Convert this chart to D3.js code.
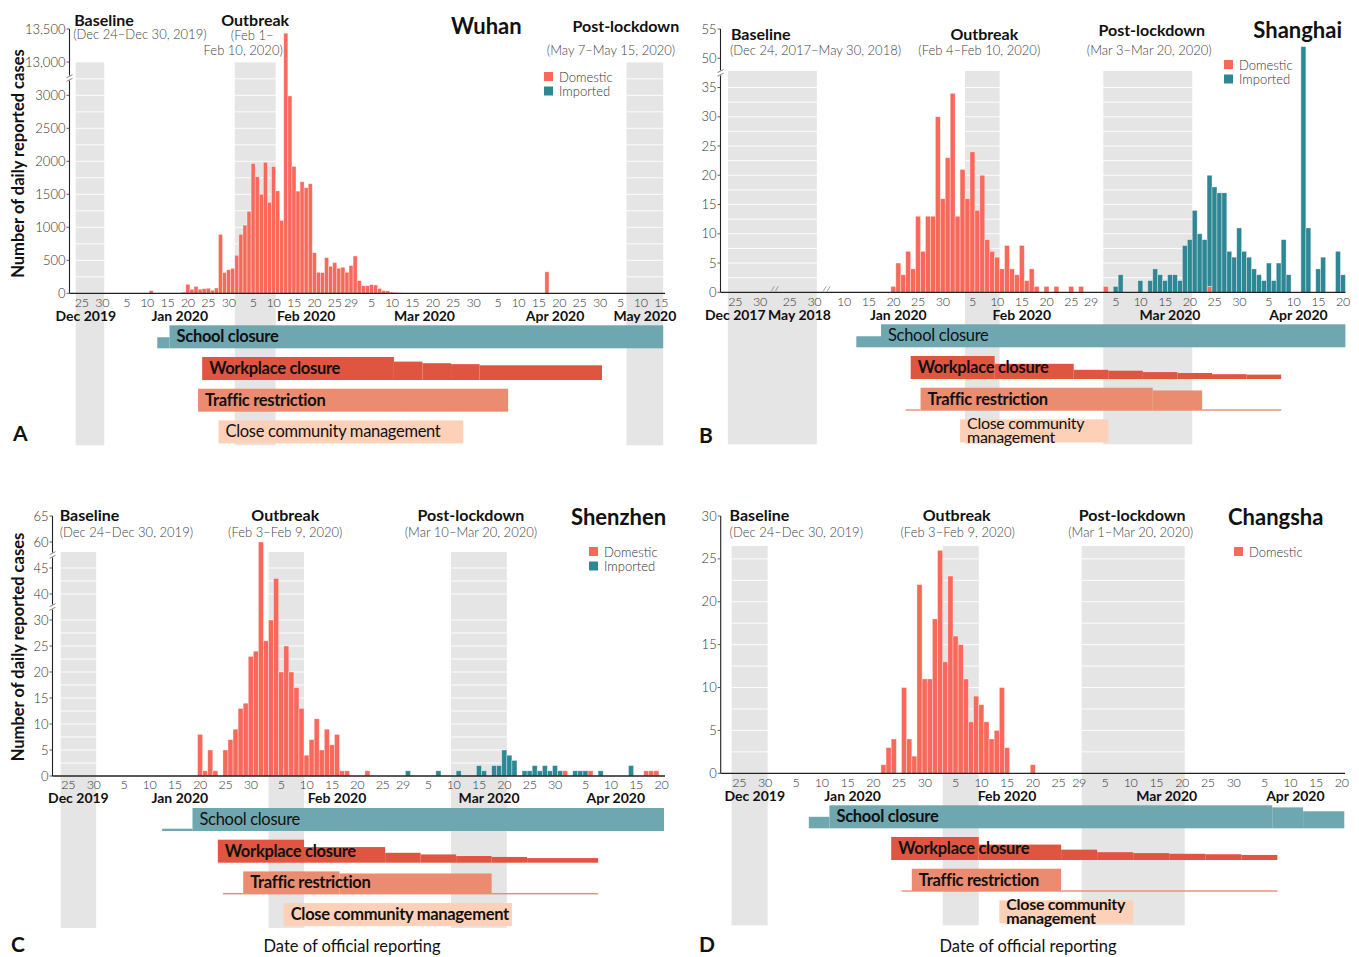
<!DOCTYPE html>
<html>
<head>
<meta charset="utf-8">
<script src="https://cdn.jsdelivr.net/npm/d3@7"></script>
<style>
body { margin: 0; background: #fff; }
svg { font-family: Lato, 'Noto Sans', sans-serif; }
</style>
</head>
<body>
<svg id="chart" width="1359" height="957"></svg>
<script>
// ---- data ----
var seriesNames = ['Domestic', 'Imported'];
var seriesColors = ['#f8695b', '#2e8794'];
var interventionNames = ['School closure', 'Workplace closure', 'Traffic restriction', 'Close community management'];
var interventionColors = ['#6fa7b1', '#e0553f', '#eb8b6f', '#fdd0b8'];
var tickDays = [5, 10, 15, 20, 25, 30];

// daily reported cases [reporting date, cases]
var wuhanDomestic = [
	['2020-01-11', 41], ['2020-01-18', 4], ['2020-01-19', 17], ['2020-01-20', 136], ['2020-01-21', 60],
	['2020-01-22', 105], ['2020-01-23', 62], ['2020-01-24', 70], ['2020-01-25', 77], ['2020-01-26', 46],
	['2020-01-27', 80], ['2020-01-28', 892], ['2020-01-29', 315], ['2020-01-30', 356], ['2020-01-31', 378],
	['2020-02-01', 576], ['2020-02-02', 894], ['2020-02-03', 1033], ['2020-02-04', 1242], ['2020-02-05', 1967],
	['2020-02-06', 1766], ['2020-02-07', 1501], ['2020-02-08', 1985], ['2020-02-09', 1379], ['2020-02-10', 1921],
	['2020-02-11', 1552], ['2020-02-12', 1104], ['2020-02-13', 13436], ['2020-02-14', 2990], ['2020-02-15', 1923],
	['2020-02-16', 1548], ['2020-02-17', 1690], ['2020-02-18', 1600], ['2020-02-19', 1660], ['2020-02-20', 615],
	['2020-02-21', 319], ['2020-02-22', 314], ['2020-02-23', 541], ['2020-02-24', 410], ['2020-02-25', 465],
	['2020-02-26', 380], ['2020-02-27', 395], ['2020-02-28', 318], ['2020-02-29', 420], ['2020-03-01', 565],
	['2020-03-02', 193], ['2020-03-03', 114], ['2020-03-04', 115], ['2020-03-05', 131], ['2020-03-06', 126],
	['2020-03-07', 74], ['2020-03-08', 41], ['2020-03-09', 36], ['2020-03-10', 17], ['2020-03-11', 13],
	['2020-03-12', 8], ['2020-03-13', 5], ['2020-03-14', 4], ['2020-03-15', 4], ['2020-03-16', 4],
	['2020-03-17', 1], ['2020-03-18', 1], ['2020-03-24', 1], ['2020-04-17', 325], ['2020-05-10', 1], ['2020-05-11', 5]
];
var wuhanImported = [];

var shanghaiDomestic = [
	['2020-01-20', 1], ['2020-01-21', 5], ['2020-01-22', 3], ['2020-01-23', 7], ['2020-01-24', 4],
	['2020-01-25', 13], ['2020-01-26', 7], ['2020-01-27', 13], ['2020-01-28', 13], ['2020-01-29', 30],
	['2020-01-30', 16], ['2020-01-31', 23], ['2020-02-01', 34], ['2020-02-02', 13], ['2020-02-03', 21],
	['2020-02-04', 16], ['2020-02-05', 24], ['2020-02-06', 14], ['2020-02-07', 20], ['2020-02-08', 9],
	['2020-02-09', 7], ['2020-02-10', 6], ['2020-02-11', 4], ['2020-02-12', 8], ['2020-02-13', 4],
	['2020-02-14', 3], ['2020-02-15', 8], ['2020-02-16', 2], ['2020-02-17', 4], ['2020-02-18', 1],
	['2020-02-20', 1], ['2020-02-22', 1], ['2020-02-25', 1], ['2020-02-27', 1], ['2020-03-03', 1], ['2020-03-24', 1]
];
var shanghaiImported = [
	['2020-03-05', 1], ['2020-03-06', 3], ['2020-03-10', 2], ['2020-03-12', 2], ['2020-03-13', 4],
	['2020-03-14', 3], ['2020-03-15', 2], ['2020-03-16', 3], ['2020-03-17', 3], ['2020-03-18', 2],
	['2020-03-19', 8], ['2020-03-20', 9], ['2020-03-21', 14], ['2020-03-22', 10], ['2020-03-23', 9],
	['2020-03-24', 19], ['2020-03-25', 18], ['2020-03-26', 17], ['2020-03-27', 17], ['2020-03-28', 7],
	['2020-03-29', 6], ['2020-03-30', 11], ['2020-03-31', 7], ['2020-04-01', 6], ['2020-04-02', 4],
	['2020-04-03', 3], ['2020-04-04', 2], ['2020-04-05', 5], ['2020-04-06', 2], ['2020-04-07', 5],
	['2020-04-08', 9], ['2020-04-09', 3], ['2020-04-12', 52], ['2020-04-13', 11], ['2020-04-15', 4],
	['2020-04-16', 6], ['2020-04-19', 7], ['2020-04-20', 3]
];

var shenzhenDomestic = [
	['2020-01-20', 8], ['2020-01-21', 1], ['2020-01-22', 5], ['2020-01-23', 1], ['2020-01-25', 5],
	['2020-01-26', 7], ['2020-01-27', 9], ['2020-01-28', 13], ['2020-01-29', 14], ['2020-01-30', 23],
	['2020-01-31', 24], ['2020-02-01', 60], ['2020-02-02', 26], ['2020-02-03', 30], ['2020-02-04', 43],
	['2020-02-05', 20], ['2020-02-06', 25], ['2020-02-07', 20], ['2020-02-08', 17], ['2020-02-09', 13],
	['2020-02-10', 4], ['2020-02-11', 7], ['2020-02-12', 11], ['2020-02-13', 5], ['2020-02-14', 9],
	['2020-02-15', 6], ['2020-02-16', 8], ['2020-02-17', 1], ['2020-02-18', 1], ['2020-02-22', 1],
	['2020-04-01', 1], ['2020-04-06', 1], ['2020-04-17', 1], ['2020-04-18', 1], ['2020-04-19', 1]
];
var shenzhenImported = [
	['2020-03-01', 1], ['2020-03-07', 1], ['2020-03-11', 1], ['2020-03-15', 2], ['2020-03-16', 1],
	['2020-03-18', 2], ['2020-03-19', 2], ['2020-03-20', 5], ['2020-03-21', 4], ['2020-03-22', 3],
	['2020-03-24', 1], ['2020-03-25', 1], ['2020-03-26', 2], ['2020-03-27', 1], ['2020-03-28', 2],
	['2020-03-29', 1], ['2020-03-30', 2], ['2020-03-31', 1], ['2020-04-03', 1], ['2020-04-04', 1],
	['2020-04-05', 1], ['2020-04-08', 1], ['2020-04-14', 2]
];

var changshaDomestic = [
	['2020-01-22', 1], ['2020-01-23', 3], ['2020-01-24', 4], ['2020-01-26', 10], ['2020-01-27', 4],
	['2020-01-28', 2], ['2020-01-29', 22], ['2020-01-30', 11], ['2020-01-31', 11], ['2020-02-01', 18],
	['2020-02-02', 26], ['2020-02-03', 13], ['2020-02-04', 23], ['2020-02-05', 16], ['2020-02-06', 15],
	['2020-02-07', 11], ['2020-02-08', 6], ['2020-02-09', 9], ['2020-02-10', 8], ['2020-02-11', 6],
	['2020-02-12', 4], ['2020-02-13', 5], ['2020-02-14', 10], ['2020-02-15', 3], ['2020-02-20', 1]
];
var changshaImported = [];

// y ticks
var wuhanYTicks = [0, 500, 1000, 1500, 2000, 2500, 3000, 13000, 13500];
var shanghaiYTicks = [0, 5, 10, 15, 20, 25, 30, 35, 50, 55];
var shenzhenYTicks = [0, 5, 10, 15, 20, 25, 30, 40, 45, 60, 65];
var changshaYTicks = [0, 5, 10, 15, 20, 25, 30];

// study periods [name, first day, last day, sub lines]
var wuhanPeriods = [
	['Baseline', '2019-12-24', '2019-12-30', ['(Dec 24–Dec 30, 2019)']],
	['Outbreak', '2020-02-01', '2020-02-10', ['(Feb 1–', 'Feb 10, 2020)']],
	['Post-lockdown', '2020-05-07', '2020-05-15', ['(May 7–May 15, 2020)']]
];
var shanghaiPeriods = [
	['Baseline', '2017-12-24', '2018-05-30', ['(Dec 24, 2017–May 30, 2018)']],
	['Outbreak', '2020-02-04', '2020-02-10', ['(Feb 4–Feb 10, 2020)']],
	['Post-lockdown', '2020-03-03', '2020-03-20', ['(Mar 3–Mar 20, 2020)']]
];
var shenzhenPeriods = [
	['Baseline', '2019-12-24', '2019-12-30', ['(Dec 24–Dec 30, 2019)']],
	['Outbreak', '2020-02-03', '2020-02-09', ['(Feb 3–Feb 9, 2020)']],
	['Post-lockdown', '2020-03-10', '2020-03-20', ['(Mar 10–Mar 20, 2020)']]
];
var changshaPeriods = [
	['Baseline', '2019-12-24', '2019-12-30', ['(Dec 24–Dec 30, 2019)']],
	['Outbreak', '2020-02-03', '2020-02-09', ['(Feb 3–Feb 9, 2020)']],
	['Post-lockdown', '2020-03-01', '2020-03-20', ['(Mar 1–Mar 20, 2020)']]
];

// month labels [text, day it centres on]
var wuhanMonths = [['Dec 2019', '2019-12-26'], ['Jan 2020', '2020-01-18'], ['Feb 2020', '2020-02-18'],
	['Mar 2020', '2020-03-18'], ['Apr 2020', '2020-04-19'], ['May 2020', '2020-05-11']];
var shanghaiMonths = [['Dec 2017', '2017-12-25'], ['May 2018', '2018-05-27'], ['Jan 2020', '2020-01-21'],
	['Feb 2020', '2020-02-15'], ['Mar 2020', '2020-03-16'], ['Apr 2020', '2020-04-11']];
var shenzhenMonths = [['Dec 2019', '2019-12-27'], ['Jan 2020', '2020-01-16'], ['Feb 2020', '2020-02-16'],
	['Mar 2020', '2020-03-17'], ['Apr 2020', '2020-04-11']];
var changshaMonths = [['Dec 2019', '2019-12-28'], ['Jan 2020', '2020-01-16'], ['Feb 2020', '2020-02-15'],
	['Mar 2020', '2020-03-17'], ['Apr 2020', '2020-04-11']];

// interventions: per measure, [first day, last day, intensity]
var wuhanInterventions = [
	[['2020-01-13', '2020-01-15', 0.48], ['2020-01-16', '2020-05-15', 1]],
	[['2020-01-24', '2020-03-10', 1], ['2020-03-11', '2020-03-17', 0.8], ['2020-03-18', '2020-03-24', 0.73],
		['2020-03-25', '2020-03-31', 0.69], ['2020-04-01', '2020-04-30', 0.64]],
	[['2020-01-23', '2020-04-07', 1]],
	[['2020-01-28', '2020-03-27', 1]]
];
var shanghaiInterventions = [
	[['2020-01-13', '2020-01-17', 0.48], ['2020-01-18', '2020-04-20', 1]],
	[['2020-01-24', '2020-02-09', 1], ['2020-02-10', '2020-02-25', 0.66], ['2020-02-26', '2020-03-03', 0.4],
		['2020-03-04', '2020-03-10', 0.36], ['2020-03-11', '2020-03-17', 0.3], ['2020-03-18', '2020-03-24', 0.26],
		['2020-03-25', '2020-03-31', 0.21], ['2020-04-01', '2020-04-07', 0.19]],
	[['2020-01-23', '2020-01-25', 0.06], ['2020-01-26', '2020-03-12', 1], ['2020-03-13', '2020-03-22', 0.88],
		['2020-03-23', '2020-04-07', 0.06]],
	[['2020-02-03', '2020-03-03', 1]]
];
var shenzhenInterventions = [
	[['2020-01-13', '2020-01-18', 0.1], ['2020-01-19', '2020-04-20', 1]],
	[['2020-01-24', '2020-02-09', 1], ['2020-02-10', '2020-02-25', 0.68], ['2020-02-26', '2020-03-03', 0.43],
		['2020-03-04', '2020-03-10', 0.36], ['2020-03-11', '2020-03-17', 0.29], ['2020-03-18', '2020-03-24', 0.25],
		['2020-03-25', '2020-04-07', 0.2]],
	[['2020-01-25', '2020-01-28', 0.06], ['2020-01-29', '2020-02-16', 1], ['2020-02-17', '2020-03-17', 0.91],
		['2020-03-18', '2020-04-07', 0.06]],
	[['2020-02-06', '2020-03-21', 1]]
];
var changshaInterventions = [
	[['2020-01-08', '2020-01-11', 0.5], ['2020-01-12', '2020-04-06', 1], ['2020-04-07', '2020-04-12', 0.91],
		['2020-04-13', '2020-04-20', 0.74]],
	[['2020-01-24', '2020-02-09', 1], ['2020-02-10', '2020-02-25', 0.67], ['2020-02-26', '2020-03-03', 0.45],
		['2020-03-04', '2020-03-10', 0.34], ['2020-03-11', '2020-03-17', 0.3], ['2020-03-18', '2020-03-24', 0.27],
		['2020-03-25', '2020-03-31', 0.25], ['2020-04-01', '2020-04-07', 0.22]],
	[['2020-01-26', '2020-01-27', 0.06], ['2020-01-28', '2020-02-25', 1], ['2020-02-26', '2020-04-07', 0.06]],
	[['2020-02-14', '2020-03-10', 1]]
];

// ---- helpers ----
var parseDay = d3.utcParse('%Y-%m-%d');
var fmtDay = d3.utcFormat('%Y-%m-%d');
function dayRange(a, b) {
	return d3.utcDay.range(parseDay(a), d3.utcDay.offset(parseDay(b), 1)).map(fmtDay);
}

var panels = [{
	letter: 'A', city: 'Wuhan',
	days: dayRange('2019-12-23', '2020-05-15'),
	xRange: [71.6, 663.2], axisX: 69.5, axisEnd: 665,
	axisY: 293.3, yTop: 29, fMax: 4005, breaks: [[3262, 12757]],
	yTicks: wuhanYTicks, gridStep: 250, bandTop: 62,
	domestic: wuhanDomestic, imported: wuhanImported,
	periods: wuhanPeriods,
	periodPos: [
		{ref: 'start', dx: -1.5, anchor: 'start', ty: 26, sdx: [-2.5], sy: [39]},
		{ref: 'center', dx: 0, anchor: 'middle', ty: 26, sdx: [-3, -12], sy: [40, 55]},
		{ref: 'end', dx: 16, anchor: 'end', ty: 32, sdx: [12], sy: [55]}],
	months: wuhanMonths, interventions: wuhanInterventions,
	labelBold: [true, true, true, false], closeTwoLines: false,
	title: {x: 451, y: 34, anchor: 'start'},
	legend: {x: 544, y: 72, n: 2},
	letterPos: [13, 441], yTitle: [24, 163.5], xTitle: null
}, {
	letter: 'B', city: 'Shanghai',
	days: [].concat(dayRange('2017-12-22', '2017-12-31'), ['gap1', 'gap2'], dayRange('2018-05-23', '2018-05-30'),
		['gap3', 'gap4', 'gap5'], dayRange('2020-01-08', '2020-04-20')),
	xGaps: [['gap1', 'gap2'], ['gap3', 'gap4', 'gap5']],
	xRange: [718, 1345.4], axisX: 720.5, axisEnd: 1345.5,
	axisY: 292.3, yTop: 29, fMax: 45, breaks: [[37.5, 47.5]],
	yTicks: shanghaiYTicks, gridStep: 2.5, bandTop: 71,
	domestic: shanghaiDomestic, imported: shanghaiImported,
	periods: shanghaiPeriods,
	periodPos: [
		{ref: 'start', dx: 3, anchor: 'start', ty: 39.5, sdx: [2], sy: [54.5]},
		{ref: 'center', dx: 2, anchor: 'middle', ty: 39.5, sdx: [-3], sy: [54.5]},
		{ref: 'center', dx: 4, anchor: 'middle', ty: 36, sdx: [1.5], sy: [55]}],
	months: shanghaiMonths, interventions: shanghaiInterventions,
	labelBold: [false, true, true, false], closeTwoLines: true,
	title: {x: 1342, y: 38, anchor: 'end'},
	legend: {x: 1224, y: 60, n: 2},
	letterPos: [699, 443], yTitle: null, xTitle: null
}, {
	letter: 'C', city: 'Shenzhen',
	days: dayRange('2019-12-23', '2020-04-20'),
	xRange: [55.6, 664], axisX: 52.5, axisEnd: 665,
	axisY: 776, yTop: 516, fMax: 50, breaks: [[32.5, 37.5], [47.5, 57.5]],
	yTicks: shenzhenYTicks, gridStep: 2.5, bandTop: 552,
	domestic: shenzhenDomestic, imported: shenzhenImported,
	periods: shenzhenPeriods,
	periodPos: [
		{ref: 'start', dx: -1, anchor: 'start', ty: 521, sdx: [-1], sy: [537]},
		{ref: 'center', dx: -1, anchor: 'middle', ty: 521, sdx: [-1], sy: [537]},
		{ref: 'center', dx: -8, anchor: 'middle', ty: 520.5, sdx: [-8], sy: [537]}],
	months: shenzhenMonths, interventions: shenzhenInterventions,
	labelBold: [false, true, true, true], closeTwoLines: false,
	title: {x: 571, y: 525, anchor: 'start'},
	legend: {x: 589, y: 547, n: 2},
	letterPos: [11, 952], yTitle: [24, 647], xTitle: [352, 952]
}, {
	letter: 'D', city: 'Changsha',
	days: dayRange('2019-12-23', '2020-04-20'),
	xRange: [726.45, 1344.3], axisX: 720.7, axisEnd: 1345,
	axisY: 773.3, yTop: 516, fMax: 30, breaks: [],
	yTicks: changshaYTicks, gridStep: 2.5, bandTop: 546,
	domestic: changshaDomestic, imported: changshaImported,
	periods: changshaPeriods,
	periodPos: [
		{ref: 'start', dx: -2, anchor: 'start', ty: 521, sdx: [-2], sy: [537]},
		{ref: 'center', dx: -4, anchor: 'middle', ty: 521, sdx: [-3], sy: [537]},
		{ref: 'center', dx: -1, anchor: 'middle', ty: 520.5, sdx: [-2.5], sy: [537]}],
	months: changshaMonths, interventions: changshaInterventions,
	labelBold: [true, true, true, true], closeTwoLines: true,
	title: {x: 1228, y: 525, anchor: 'start'},
	legend: {x: 1234, y: 547, n: 1},
	letterPos: [699, 952], yTitle: null, xTitle: [1028, 952]
}];

var svg = d3.select('#chart');
panels.forEach(function(p) { drawPanel(p); });

function drawPanel(p) {
	var g = svg.append('g').attr('class', 'panel_' + p.letter);

	var xScale = d3.scaleBand().domain(p.days).range(p.xRange).paddingInner(0).paddingOuter(0);
	var bw = xScale.bandwidth();
	var base = d3.scaleLinear().domain([0, p.fMax]).range([p.axisY, p.yTop]);

	// broken value axis: values inside a break are squeezed out
	function fold(v) {
		var off = 0;
		for (var i = 0; i < p.breaks.length; ++i) {
			var b = p.breaks[i];
			if (v >= b[1]) off += b[1] - b[0];
			else if (v > b[0]) return b[0] - off;
		}
		return v - off;
	}
	function yScale(v) { return base(fold(v)); }
	function inBreak(v) {
		return p.breaks.some(function(b) { return v > b[0] - 1e-9 && v < b[1] + 1e-9; });
	}

	var bandBottom = p.axisY + 152;

	// grey study-period bands
	g.append('g').selectAll('rect')
		.data(p.periods)
		.enter()
		.append('rect')
		.attr('x', function(d) { return xScale(d[1]); })
		.attr('y', p.bandTop)
		.attr('width', function(d) { return xScale(d[2]) + bw - xScale(d[1]); })
		.attr('height', bandBottom - p.bandTop)
		.attr('fill', '#e5e5e5');

	// white grid lines (only show on the grey bands)
	var maxVal = p.yTicks[p.yTicks.length - 1];
	var grid = d3.range(0, maxVal + p.gridStep / 2, p.gridStep).filter(function(v) { return !inBreak(v); });
	g.append('g').selectAll('line')
		.data(grid)
		.enter()
		.append('line')
		.attr('x1', p.axisX).attr('x2', p.axisEnd)
		.attr('y1', function(d) { return yScale(d); })
		.attr('y2', function(d) { return yScale(d); })
		.attr('stroke', '#fff')
		.attr('stroke-width', 0.9);

	// stacked bars: domestic bottom, imported on top
	var byDay = {};
	p.domestic.forEach(function(d) { byDay[d[0]] = {day: d[0], dom: d[1], imp: 0}; });
	p.imported.forEach(function(d) {
		if (!byDay[d[0]]) byDay[d[0]] = {day: d[0], dom: 0, imp: 0};
		byDay[d[0]].imp = d[1];
	});
	var stacks = Object.keys(byDay).map(function(k) { return byDay[k]; });
	var barParts = [];
	stacks.forEach(function(s) {
		if (s.dom > 0) barParts.push({day: s.day, lo: 0, hi: s.dom, series: 0});
		if (s.imp > 0) barParts.push({day: s.day, lo: s.dom, hi: s.dom + s.imp, series: 1});
	});
	g.append('g').selectAll('rect')
		.data(barParts)
		.enter()
		.append('rect')
		.attr('x', function(d) { return xScale(d.day); })
		.attr('y', function(d) { return yScale(d.hi); })
		.attr('width', bw)
		.attr('height', function(d) { return yScale(d.lo) - yScale(d.hi); })
		.attr('fill', function(d) { return seriesColors[d.series]; })
		.attr('stroke', 'rgba(255,255,255,0.5)')
		.attr('stroke-width', 0.7);

	// axes
	g.append('line')
		.attr('x1', p.axisX).attr('x2', p.axisEnd)
		.attr('y1', p.axisY).attr('y2', p.axisY)
		.attr('stroke', '#222').attr('stroke-width', 1.3);
	g.append('line')
		.attr('x1', p.axisX).attr('x2', p.axisX)
		.attr('y1', p.axisY).attr('y2', p.yTop)
		.attr('stroke', '#222').attr('stroke-width', 1.1);

	var yt = g.append('g').selectAll('g')
		.data(p.yTicks)
		.enter()
		.append('g')
		.attr('transform', function(d) { return 'translate(0,' + yScale(d) + ')'; });
	yt.append('line')
		.attr('x1', p.axisX - 3).attr('x2', p.axisX)
		.attr('stroke', '#333').attr('stroke-width', 0.8);
	yt.append('text')
		.attr('x', p.axisX - 4)
		.attr('dy', '0.35em')
		.attr('text-anchor', 'end')
		.style('font-size', '13px')
		.style('font-weight', 300)
		.attr('fill', '#333')
		.text(function(d) { return d >= 10000 ? d3.format(',')(d) : String(d); });

	// y break marks
	p.breaks.forEach(function(b) {
		var by = yScale(b[0]);
		g.append('rect')
			.attr('x', p.axisX - 2).attr('y', by - 2.5)
			.attr('width', 4).attr('height', 5)
			.attr('fill', '#fff');
		[-1.8, 1.8].forEach(function(o) {
			g.append('line')
				.attr('x1', p.axisX - 3).attr('y1', by + o + 1.5)
				.attr('x2', p.axisX + 3).attr('y2', by + o - 1.5)
				.attr('stroke', '#666').attr('stroke-width', 0.8);
		});
	});

	// x break marks (Shanghai)
	(p.xGaps || []).forEach(function(gp) {
		var gx = (xScale(gp[0]) + xScale(gp[gp.length - 1]) + bw) / 2 + 3;
		[-2, 2].forEach(function(o) {
			g.append('line')
				.attr('x1', gx + o - 2).attr('y1', p.axisY - 1)
				.attr('x2', gx + o + 1).attr('y2', p.axisY - 6)
				.attr('stroke', '#888').attr('stroke-width', 0.8);
		});
	});

	// x tick labels (day of month)
	var ticks = p.days.filter(function(d) {
		if (d.indexOf('gap') === 0) return false;
		var dt = parseDay(d);
		var dd = dt.getUTCDate();
		return tickDays.indexOf(dd) >= 0 || (dt.getUTCMonth() === 1 && dd === 29);
	});
	g.append('g').selectAll('text')
		.data(ticks)
		.enter()
		.append('text')
		.attr('x', function(d) { return xScale(d) + bw / 2; })
		.attr('y', p.axisY + 13.2)
		.attr('text-anchor', 'middle')
		.style('font-size', '12.5px')
		.style('font-weight', 300)
		.style('letter-spacing', '-0.3px')
		.attr('fill', '#333')
		.text(function(d) { return String(parseDay(d).getUTCDate()); });

	g.append('g').selectAll('text')
		.data(p.months)
		.enter()
		.append('text')
		.attr('x', function(d) { return xScale(d[1]) + bw / 2; })
		.attr('y', p.axisY + 27.4)
		.attr('text-anchor', 'middle')
		.style('font-size', '14px')
		.style('font-weight', 700)
		.attr('fill', '#111')
		.text(function(d) { return d[0]; });

	// intervention bars
	var rowTop = function(i) { return p.axisY + 32 + i * 31.7; };
	var rowH = 23;
	p.interventions.forEach(function(segs, i) {
		var row = g.append('g');
		row.selectAll('rect')
			.data(segs)
			.enter()
			.append('rect')
			.attr('x', function(d) { return xScale(d[0]); })
			.attr('width', function(d) { return xScale(d[1]) + bw - xScale(d[0]); })
			.attr('y', function(d) { return rowTop(i) + rowH * (1 - d[2]); })
			.attr('height', function(d) { return Math.max(1.2, rowH * d[2]); })
			.attr('fill', interventionColors[i]);
		var full = segs.filter(function(d) { return d[2] >= 0.99; })[0];
		var lx = xScale(full[0]) + 7;
		var twoLines = (i === 3 && p.closeTwoLines);
		var label = row.append('text')
			.attr('x', lx)
			.attr('y', twoLines ? rowTop(i) + 10 : rowTop(i) + 17)
			.style('font-size', twoLines ? '16px' : '16.5px')
			.style('font-weight', p.labelBold[i] ? 700 : 400)
			.style('letter-spacing', '-0.3px')
			.attr('fill', '#111');
		if (twoLines) {
			label.append('tspan').attr('x', lx).text('Close community');
			label.append('tspan').attr('x', lx).attr('dy', 13.5).text('management');
		} else {
			label.text(interventionNames[i]);
		}
	});

	// period labels
	p.periods.forEach(function(d, i) {
		var pos = p.periodPos[i];
		var x0 = xScale(d[1]), x1 = xScale(d[2]) + bw;
		var ref = pos.ref === 'start' ? x0 : (pos.ref === 'end' ? x1 : (x0 + x1) / 2);
		g.append('text')
			.attr('x', ref + pos.dx)
			.attr('y', pos.ty)
			.attr('text-anchor', pos.anchor)
			.style('font-size', '16px')
			.style('font-weight', 700)
			.attr('fill', '#111')
			.text(d[0]);
		var sub = g.append('text')
			.attr('y', pos.sy[0])
			.attr('text-anchor', pos.anchor)
			.style('font-size', '13px')
			.style('font-weight', 300)
			.attr('fill', '#444');
		d[3].forEach(function(s, k) {
			sub.append('tspan')
				.attr('x', ref + pos.sdx[k])
				.attr('y', pos.sy[k])
				.text(s);
		});
	});

	// city title
	g.append('text')
		.attr('x', p.title.x).attr('y', p.title.y)
		.attr('text-anchor', p.title.anchor)
		.style('font-size', '22px')
		.style('font-weight', 700)
		.attr('fill', '#111')
		.text(p.city);

	// legend
	var lg = g.append('g').selectAll('g')
		.data(seriesNames.slice(0, p.legend.n))
		.enter()
		.append('g')
		.attr('transform', function(d, i) { return 'translate(' + p.legend.x + ',' + (p.legend.y + i * 14.5) + ')'; });
	lg.append('rect')
		.attr('width', 9).attr('height', 9)
		.attr('fill', function(d, i) { return seriesColors[i]; });
	lg.append('text')
		.attr('x', 15).attr('y', 9.5)
		.style('font-size', '13px')
		.style('font-weight', 300)
		.attr('fill', '#333')
		.text(String);

	// panel letter
	g.append('text')
		.attr('x', p.letterPos[0]).attr('y', p.letterPos[1])
		.style('font-size', '21px')
		.style('font-weight', 700)
		.attr('fill', '#111')
		.text(p.letter);

	if (p.yTitle) {
		g.append('text')
			.attr('transform', 'translate(' + p.yTitle[0] + ',' + p.yTitle[1] + ') rotate(-90)')
			.attr('text-anchor', 'middle')
			.style('font-size', '16.5px')
			.style('font-weight', 700)
			.attr('fill', '#111')
			.text('Number of daily reported cases');
	}
	if (p.xTitle) {
		g.append('text')
			.attr('x', p.xTitle[0]).attr('y', p.xTitle[1])
			.attr('text-anchor', 'middle')
			.style('font-size', '16.5px')
			.attr('fill', '#111')
			.text('Date of official reporting');
	}
}
</script>
</body>
</html>
